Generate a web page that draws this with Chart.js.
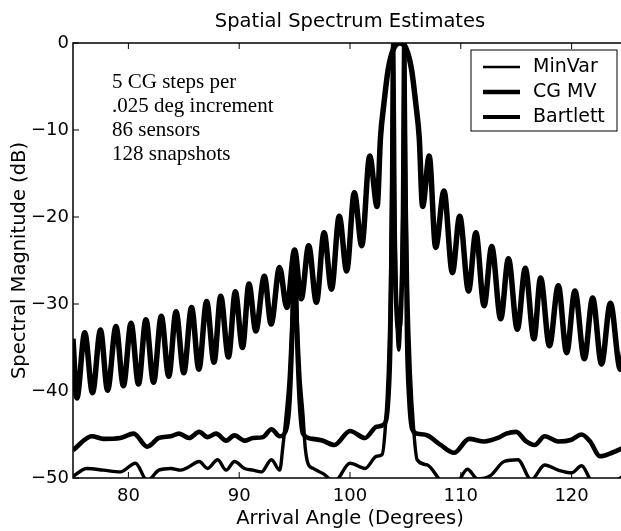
<!DOCTYPE html>
<html>
<head>
<meta charset="utf-8">
<script src="https://cdn.jsdelivr.net/npm/chart.js@4/dist/chart.umd.min.js"></script>
<style>
  html, body { margin: 0; padding: 0; background: #fff; overflow: hidden; }
  canvas { display: block; }
</style>
</head>
<body>
<canvas id="spectrum" width="630" height="531"></canvas>
<script>
// values (angle in degrees, magnitude in dB)
const angleTicks = [80, 90, 100, 110, 120];
const dbTicks = [-50, -40, -30, -20, -10, 0];
const seriesNames = ['MinVar', 'CG MV', 'Bartlett'];
const noteLines = ['5 CG steps per', '.025 deg increment', '86 sensors', '128 snapshots'];

const bartlettAngle = [75.0, 75.35, 76.06, 76.76, 77.48, 78.12, 78.88, 79.55, 80.24, 80.91, 81.58, 82.27, 82.97, 83.64,
  84.30, 85.0, 85.70, 86.36, 87.06, 87.73, 88.33, 89.03, 89.65, 90.3, 90.88, 91.5, 92.27, 92.88, 93.64, 94.3, 95.0,
  95.6, 96.27, 96.97, 97.66, 98.33, 99.03, 99.7, 100.39, 101.06, 101.78, 102.45, 102.75, 103.05, 103.45, 103.95,
  104.5, 105.05, 105.55, 105.95, 106.25, 106.55, 107.15, 107.73, 108.48, 109.24, 109.9, 110.7, 111.36, 112.1,
  112.79, 113.6, 114.3, 115.1, 115.82, 116.6, 117.2, 118.0, 118.8, 119.55, 120.3, 121.15, 121.9, 122.7, 123.5,
  124.4, 125.0];
const bartlettDb = [-34.0, -40.8, -33.3, -40.2, -33.0, -39.9, -32.6, -39.4, -32.2, -39.2, -31.8, -39.0, -31.4, -38.3,
  -30.9, -37.9, -30.4, -37.5, -29.7, -36.7, -29.1, -36.1, -28.6, -35.0, -27.7, -33.1, -26.8, -32.3, -25.8, -30.4, -23.8,
  -29.4, -23.3, -29.8, -21.8, -28.3, -19.9, -26.2, -17.2, -23.3, -13.0, -18.8, -10.9, -7.1, -3.0, -0.6,
  0, -0.6, -3.0, -7.1, -10.9, -18.8, -13.0, -23.5, -17.0, -26.4, -19.9, -28.5, -21.8, -30.2,
  -23.4, -31.7, -24.8, -32.9, -25.9, -34.0, -27.0, -34.8, -27.9, -35.6, -28.5, -36.3, -29.3, -36.9, -29.9,
  -37.5, -32.0];

const minVarAngle = [75.0, 76.25, 77.75, 79.27, 80.64, 81.7, 82.75, 83.82, 84.73, 85.48, 86.39, 87.15, 88.06, 88.82,
  89.57, 90.48, 91.25, 92.0, 92.91, 93.66, 93.94, 94.25, 94.5, 94.75, 95.0, 95.25, 95.5, 95.75, 95.95, 96.2, 96.67,
  97.57, 98.6, 100.0, 101.36, 102.4, 102.9, 103.2, 103.45, 103.65, 103.78, 103.9, 104.02, 104.15, 104.4, 104.65,
  104.78, 104.9, 105.02, 105.2, 105.45, 105.75, 106.06, 106.97, 108.18, 109.39, 110.6, 111.5, 112.7, 113.9, 115.15,
  116.36, 117.57, 118.8, 120.0, 120.9, 121.8, 123.0, 124.5, 125.0];
const minVarDb = [-49.8, -48.9, -49.1, -49.3, -48.3, -50.3, -49.1, -48.9, -49.1, -48.7, -48.1, -48.9, -47.9, -49.1,
  -48.1, -48.9, -49.1, -49.3, -47.9, -49.1, -46.4, -42.6, -38.7, -32.0, -24.0, -32.0, -38.7, -42.6, -46.4, -48.3, -48.9,
  -49.5, -50.4, -48.3, -48.9, -47.5, -47.3, -44.0, -38.0, -28.0, -14.0, 0, -18.0, -28.0, -35.3, -28.0,
  -18.0, 0, -14.0, -28.0, -38.0, -44.5, -47.9, -48.5, -50.3, -51.0, -49.0, -50.1, -49.7, -48.1, -47.9,
  -50.2, -48.5, -49.1, -49.4, -48.6, -50.4, -51.0, -49.9, -49.5];

const cgAngle = [75.0, 76.7, 77.75, 79.27, 80.48, 81.7, 82.75, 83.82, 84.57, 85.48, 86.39, 87.15, 87.91, 88.82, 89.57,
  90.48, 91.25, 92.15, 92.91, 93.66, 94.2, 94.5, 94.75, 95.0, 95.25, 95.5, 95.75, 96.6, 97.5, 98.6, 100.0, 101.36,
  102.4, 103.1, 103.45, 103.65, 103.78, 103.9, 104.02, 104.15, 104.4, 104.65, 104.78, 104.9, 105.02, 105.15, 105.35,
  105.6, 106.06, 106.97, 108.18, 109.39, 110.75, 112.12, 113.34, 114.1, 115.0, 115.9, 116.67, 117.57, 118.79, 120.0,
  120.9, 121.67, 122.57, 123.64, 124.55, 125.0];
const cgDb = [-46.8, -45.2, -45.5, -45.4, -44.9, -46.4, -45.4, -45.2, -44.9, -45.4, -44.7, -45.3, -44.9, -45.7, -45.1,
  -45.7, -45.4, -45.3, -44.4, -45.2, -44.6, -42.0, -35.0, -24.0, -35.0, -42.0, -44.9, -45.5, -45.7, -46.2, -44.6, -45.4,
  -44.1, -43.8, -41.0, -34.0, -20.0, 0, -20.0, -29.0, -33.0, -29.0, -20.0, 0, -20.0, -34.0, -41.0,
  -44.3, -44.9, -45.1, -46.2, -47.1, -45.5, -45.8, -45.4, -44.9, -44.7, -45.8, -46.2, -45.2, -45.8, -45.6,
  -45.0, -45.8, -47.5, -47.1, -46.6, -46.3];

const SANS = '"DejaVu Sans", Helvetica, Arial, sans-serif';
const SERIF = '"Liberation Serif", "Times New Roman", serif';

function toPoints(xs, ys) {
    return xs.map((x, i) => ({ x: x, y: ys[i] }));
}

function lineSet(label, xs, ys, width) {
    return {
        label: label,
        data: toPoints(xs, ys),
        borderColor: '#000',
        borderWidth: width,
        pointRadius: 0,
        fill: false,
        cubicInterpolationMode: 'monotone',
        clip: 0
    };
}

// box round the axes plus MATLAB style inward ticks
const framePlugin = {
    id: 'frame',
    afterDatasetsDraw(chart) {
        const { ctx, chartArea: a, scales: { x, y } } = chart;
        ctx.save();
        ctx.strokeStyle = '#000';
        ctx.lineWidth = 1.5;
        ctx.strokeRect(a.left, a.top, a.right - a.left, a.bottom - a.top);
        ctx.lineWidth = 1;
        ctx.beginPath();
        angleTicks.forEach(v => {
            const px = x.getPixelForValue(v);
            ctx.moveTo(px, a.bottom); ctx.lineTo(px, a.bottom - 6);
            ctx.moveTo(px, a.top); ctx.lineTo(px, a.top + 6);
        });
        dbTicks.forEach(v => {
            const py = y.getPixelForValue(v);
            ctx.moveTo(a.left, py); ctx.lineTo(a.left + 6, py);
            ctx.moveTo(a.right, py); ctx.lineTo(a.right - 6, py);
        });
        ctx.stroke();
        ctx.restore();
    }
};

// title, note and the boxed legend
const textPlugin = {
    id: 'texts',
    afterDraw(chart) {
        const { ctx, chartArea: a } = chart;
        ctx.save();
        ctx.fillStyle = '#000';

        ctx.font = '19.5px ' + SANS;
        ctx.textAlign = 'center';
        ctx.textBaseline = 'alphabetic';
        ctx.fillText('Spatial Spectrum Estimates', (a.left + a.right) / 2, 27);

        ctx.font = '21px ' + SERIF;
        ctx.textAlign = 'left';
        noteLines.forEach((t, i) => ctx.fillText(t, a.left + 39, a.top + 45 + i * 24));

        const bx = a.right - 156, by = a.top + 7, bw = 146, bh = 81;
        ctx.fillStyle = '#fff';
        ctx.fillRect(bx, by, bw, bh);
        ctx.strokeStyle = '#000';
        ctx.lineWidth = 1;
        ctx.strokeRect(bx, by, bw, bh);
        const legendWidths = [2.7, 4.7, 4.2];
        ctx.fillStyle = '#000';
        ctx.font = '19px ' + SANS;
        ctx.textBaseline = 'middle';
        seriesNames.forEach((name, i) => {
            const ry = by + 17 + i * 25;
            ctx.lineWidth = legendWidths[i];
            ctx.beginPath();
            ctx.moveTo(bx + 12, ry);
            ctx.lineTo(bx + 49, ry);
            ctx.stroke();
            ctx.fillText(name, bx + 62, ry);
        });
        ctx.restore();
    }
};

const ctx = document.getElementById('spectrum').getContext('2d');
const chart = new Chart(ctx, {
    type: 'line',
    data: {
        datasets: [
            lineSet(seriesNames[0], minVarAngle, minVarDb, 3.4),
            lineSet(seriesNames[1], cgAngle, cgDb, 4.6),
            lineSet(seriesNames[2], bartlettAngle, bartlettDb, 5.5)
        ]
    },
    options: {
        responsive: false,
        animation: false,
        devicePixelRatio: 1,
        layout: { padding: { top: 43, right: 3, left: 0, bottom: 0 } },
        plugins: {
            legend: { display: false },
            title: { display: false },
            tooltip: { enabled: false }
        },
        scales: {
            x: {
                type: 'linear',
                min: 75,
                max: 125,
                afterBuildTicks: s => { s.ticks = angleTicks.map(v => ({ value: v })); },
                afterFit: s => { s.height = 53; },
                grid: { display: false, drawTicks: false },
                border: { display: false },
                ticks: {
                    color: '#000',
                    font: { family: SANS, size: 18 },
                    padding: 8,
                    maxRotation: 0
                },
                title: {
                    display: true,
                    text: 'Arrival Angle (Degrees)',
                    color: '#000',
                    font: { family: SANS, size: 19.5 },
                    padding: { top: 0, bottom: 0 }
                }
            },
            y: {
                min: -50,
                max: 0,
                afterBuildTicks: s => { s.ticks = dbTicks.map(v => ({ value: v })); },
                afterFit: s => { s.width = 73; },
                grid: { display: false, drawTicks: false },
                border: { display: false },
                ticks: {
                    color: '#000',
                    font: { family: SANS, size: 18 },
                    padding: 4,
                    callback: v => v < 0 ? '\u2212' + Math.abs(v) : String(v)
                },
                title: {
                    display: true,
                    text: 'Spectral Magnitude (dB)',
                    color: '#000',
                    font: { family: SANS, size: 19.5 },
                    padding: { top: 8, bottom: 0 }
                }
            }
        }
    },
    plugins: [framePlugin, textPlugin]
});
</script>
</body>
</html>
